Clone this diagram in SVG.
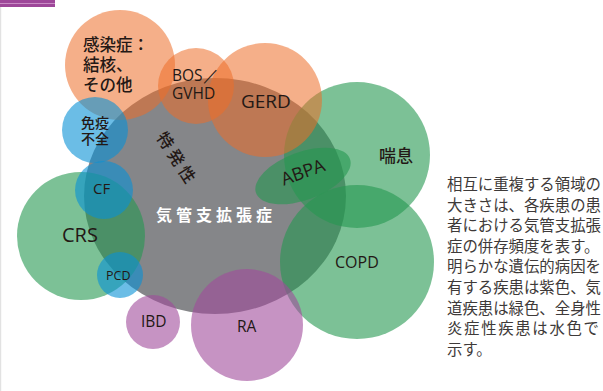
<svg xmlns="http://www.w3.org/2000/svg" width="603" height="391" viewBox="0 0 603 391">
<style>
.or{fill:#ed6e28;fill-opacity:.55}
.gr{fill:#259850;fill-opacity:.6}
.bl{fill:#0891d5;fill-opacity:.6}
.pu{fill:#a04b9b;fill-opacity:.6}
.lat{font-family:"Open Sans","Noto Sans",sans-serif;fill:#231815}
.jp{font-family:"Noto Sans CJK JP","Noto Sans",sans-serif;fill:#231815;font-weight:500}
.para{font-family:"Noto Sans CJK JP","Noto Sans",sans-serif;fill:#3e3a39;font-size:15.4px}
</style>
<rect x="0" y="0" width="603" height="391" fill="#ffffff"/>
<rect x="0" y="0" width="55" height="7" fill="#9e4799"/>
<rect x="0" y="3" width="55" height="1" fill="#c98bc5"/>
<rect x="0" y="7" width="1.2" height="384" fill="#e2e2e2"/>

<g id="bronchiectasis"><ellipse cx="215" cy="196" rx="131" ry="118" fill="#858689"/></g>
<g id="crs"><circle cx="81" cy="236" r="64" class="gr"/></g>
<g id="asthma"><circle cx="357" cy="155" r="73" class="gr"/></g>
<g id="copd"><circle cx="357" cy="262" r="77" class="gr"/></g>
<g id="abpa"><ellipse cx="303" cy="176" rx="50" ry="24" transform="rotate(-20 303 176)" class="gr"/></g>
<g id="infection"><circle cx="120" cy="65" r="55" class="or"/></g>
<g id="bos"><circle cx="196" cy="86" r="38" class="or"/></g>
<g id="gerd"><circle cx="265" cy="100" r="57" class="or"/></g>
<g id="immune"><circle cx="95" cy="130" r="33" class="bl"/></g>
<g id="cf"><circle cx="104" cy="190" r="29" class="bl"/></g>
<g id="pcd"><circle cx="120" cy="275" r="23" class="bl"/></g>
<g id="ibd"><circle cx="153" cy="322" r="27" class="pu"/></g>
<g id="ra"><circle cx="247" cy="325" r="56" class="pu"/></g>

<g id="labels">
<text class="jp" font-size="16.5" x="83" y="51">感染症：<tspan x="83" dy="20">結核、</tspan><tspan x="83" dy="20">その他</tspan></text>
<text class="lat" font-size="15.5" x="172" y="81">BOS／<tspan x="172" dy="18">GVHD</tspan></text>
<text class="lat" font-size="19" x="241" y="108">GERD</text>
<text class="jp" font-size="14" x="81" y="128">免疫<tspan x="81" dy="16">不全</tspan></text>
<text class="lat" font-size="15" x="93" y="194">CF</text>
<text class="lat" font-size="20" x="62" y="242">CRS</text>
<text class="lat" font-size="12.5" x="106" y="280">PCD</text>
<text class="lat" font-size="15.5" x="141" y="327">IBD</text>
<text class="lat" font-size="15.5" x="237" y="332">RA</text>
<text class="lat" font-size="16" x="335" y="268">COPD</text>
<text class="jp" font-size="17" x="379" y="162">喘息</text>
<text class="lat" font-size="18" transform="translate(305,178) rotate(-20)" x="0" y="0" text-anchor="middle">ABPA</text>
<text class="jp" font-size="16.5" transform="translate(177,159) rotate(57)" x="0" y="6" text-anchor="middle" letter-spacing="3.5">特発性</text>
<text font-family="Noto Sans CJK JP,Noto Sans,sans-serif" font-weight="700" font-size="16" fill="#ffffff" x="156" y="221" letter-spacing="4">気管支拡張症</text>
</g>

<g id="caption">
<text class="para" x="447" y="190">相互に重複する領域の</text>
<text class="para" x="447" y="210.6">大きさは、各疾患の患</text>
<text class="para" x="447" y="231.2">者における気管支拡張</text>
<text class="para" x="447" y="251.8">症の併存頻度を表す。</text>
<text class="para" x="447" y="272.4">明らかな遺伝的病因を</text>
<text class="para" x="447" y="293">有する疾患は紫色、気</text>
<text class="para" x="447" y="313.6">道疾患は緑色、全身性</text>
<text class="para" x="447" y="334.2" textLength="152" lengthAdjust="spacing">炎症性疾患は水色で</text>
<text class="para" x="447" y="354.8">示す。</text>
</g>
</svg>
